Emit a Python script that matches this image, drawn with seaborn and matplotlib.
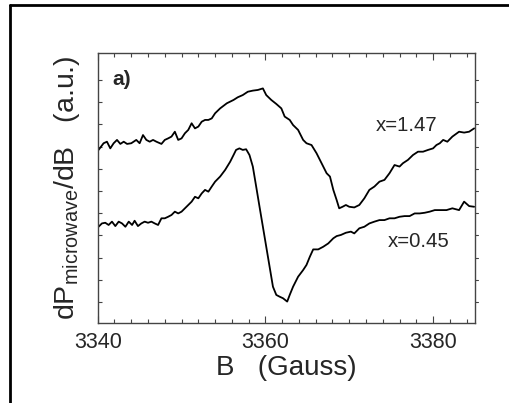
import numpy as np
import pandas as pd
import matplotlib
matplotlib.use("Agg")
import matplotlib.pyplot as plt
import seaborn as sns
from matplotlib.lines import Line2D
from matplotlib.ticker import MultipleLocator

# Upper trace, x = 1.47
b_147 = [3340.1, 3340.7, 3341.1, 3341.5, 3341.9, 3342.3, 3342.7, 3343.1, 3343.5, 3344.0,
         3344.6, 3345.0, 3345.4, 3345.8, 3346.2, 3346.6, 3347.0, 3347.6, 3348.0, 3348.4,
         3348.8, 3349.2, 3349.6, 3350.0, 3350.4, 3350.8, 3351.2, 3351.6, 3352.0, 3352.4,
         3352.8, 3353.2, 3353.6, 3354.0, 3354.6, 3355.4, 3356.2, 3356.7, 3357.3, 3357.9,
         3358.5, 3359.1, 3359.7, 3360.1, 3360.7, 3361.3, 3361.9, 3362.3, 3362.9, 3363.3,
         3363.9, 3364.5, 3364.9, 3365.5, 3366.1, 3366.7, 3367.3, 3367.7, 3368.1, 3368.5,
         3368.8, 3369.2, 3369.6, 3370.0, 3370.6, 3371.2, 3371.8, 3372.4, 3373.0, 3373.6,
         3374.2, 3374.8, 3375.4, 3376.0, 3376.4, 3377.0, 3377.6, 3378.2, 3378.8, 3379.4,
         3380.0, 3380.4, 3380.8, 3381.2, 3381.7, 3382.3, 3383.1, 3383.7, 3384.3, 3384.9]
s_147 = [6.85, 7.15, 7.22, 6.92, 7.15, 7.30, 7.12, 7.22, 7.12, 7.15,
         7.30, 7.15, 7.52, 7.30, 7.22, 7.30, 7.22, 7.12, 7.30, 7.37,
         7.45, 7.67, 7.30, 7.37, 7.60, 7.75, 8.05, 7.82, 7.90, 8.12,
         8.20, 8.20, 8.27, 8.50, 8.72, 8.95, 9.10, 9.22, 9.32, 9.47,
         9.52, 9.55, 9.62, 9.32, 9.10, 8.92, 8.72, 8.35, 8.20, 7.97,
         7.75, 7.30, 7.15, 7.07, 6.70, 6.25, 5.80, 5.65, 5.05, 4.59,
         4.22, 4.29, 4.37, 4.29, 4.26, 4.37, 4.67, 5.05, 5.20, 5.42,
         5.50, 5.80, 6.17, 6.10, 6.25, 6.40, 6.62, 6.77, 6.77, 6.85,
         6.92, 7.07, 7.15, 7.30, 7.22, 7.45, 7.67, 7.63, 7.67, 7.82]

# Lower trace, x = 0.45
b_045 = [3340.1, 3340.5, 3340.9, 3341.3, 3341.7, 3342.1, 3342.5, 3342.9, 3343.3, 3343.7,
         3344.1, 3344.4, 3344.8, 3345.2, 3345.6, 3346.0, 3346.4, 3346.8, 3347.2, 3347.6,
         3348.0, 3348.4, 3348.8, 3349.2, 3349.6, 3350.0, 3350.4, 3350.8, 3351.2, 3351.6,
         3352.0, 3352.4, 3352.8, 3353.2, 3353.6, 3354.0, 3354.6, 3355.2, 3355.8, 3356.2,
         3356.5, 3356.9, 3357.3, 3357.7, 3358.1, 3358.5, 3358.9, 3359.3, 3359.7, 3360.1,
         3360.5, 3360.9, 3361.3, 3361.7, 3362.1, 3362.6, 3362.9, 3363.3, 3363.9, 3364.5,
         3364.9, 3365.3, 3365.7, 3366.3, 3366.9, 3367.5, 3368.1, 3368.5, 3369.0, 3369.6,
         3370.2, 3370.6, 3371.2, 3371.8, 3372.4, 3373.0, 3373.6, 3374.2, 3374.8, 3375.4,
         3376.0, 3376.6, 3377.2, 3377.8, 3378.4, 3379.0, 3379.6, 3380.2, 3380.8, 3381.6,
         3382.3, 3383.1, 3383.7, 3384.3, 3384.9]
s_045 = [3.39, 3.54, 3.57, 3.47, 3.62, 3.42, 3.62, 3.54, 3.39, 3.62,
         3.47, 3.66, 3.42, 3.54, 3.62, 3.57, 3.62, 3.54, 3.47, 3.77,
         3.77, 3.84, 3.92, 4.07, 3.99, 4.07, 4.22, 4.37, 4.52, 4.74,
         4.67, 4.89, 5.05, 4.97, 5.20, 5.42, 5.65, 5.95, 6.32, 6.62,
         6.85, 6.92, 6.85, 6.88, 6.62, 6.10, 5.20, 4.29, 3.39, 2.49,
         1.59, 0.69, 0.32, 0.24, 0.17, 0.02, 0.32, 0.69, 1.14, 1.44,
         1.67, 2.04, 2.37, 2.37, 2.49, 2.64, 2.87, 2.97, 3.02, 3.12,
         3.17, 3.09, 3.32, 3.39, 3.54, 3.62, 3.69, 3.69, 3.77, 3.77,
         3.84, 3.87, 3.87, 3.99, 3.99, 4.02, 4.07, 4.14, 4.14, 4.14,
         4.22, 4.14, 4.52, 4.32, 4.29]

x_ticks = [3340, 3360, 3380]
series_labels = ["x=1.47", "x=0.45"]

sns.set_style("white")
plt.rcParams["font.family"] = ["Liberation Sans", "DejaVu Sans"]
plt.rcParams["mathtext.fontset"] = "custom"
plt.rcParams["mathtext.rm"] = "Liberation Sans"
plt.rcParams["mathtext.it"] = "Liberation Sans:italic"

fig = plt.figure(figsize=(5.10, 4.03), dpi=100)
ax = fig.add_axes([0.1916, 0.1993, 0.7398, 0.6684])

df1 = pd.DataFrame({"B": b_147, "S": s_147})
df2 = pd.DataFrame({"B": b_045, "S": s_045})
sns.lineplot(data=df1, x="B", y="S", ax=ax, color="black", lw=1.3,
             estimator=None, sort=False)
sns.lineplot(data=df2, x="B", y="S", ax=ax, color="black", lw=1.3,
             estimator=None, sort=False)

ax.set_xlim(3340, 3385)
ax.set_ylim(-0.93, 11.2)
ax.set_xticks(x_ticks)
ax.set_xticklabels([str(t) for t in x_ticks], fontsize=15.5)
ax.xaxis.set_minor_locator(MultipleLocator(2))
ax.set_yticks(range(0, 11))
ax.set_yticklabels([])

ax.tick_params(axis="x", which="major", direction="in", length=5, width=0.8,
               top=True, bottom=True, color="#444444", pad=7)
ax.tick_params(axis="x", which="minor", direction="in", length=3, width=0.8,
               top=True, bottom=True, color="#444444")
ax.tick_params(axis="y", which="major", direction="in", length=3, width=0.8,
               left=True, right=False, color="#444444")
# right-side ticks drawn outward as in the reference
for yt in range(0, 11):
    ax.plot([1.0, 1.008], [yt, yt], transform=ax.get_yaxis_transform(),
            color="#444444", lw=0.8, clip_on=False)

for sp in ax.spines.values():
    sp.set_color("#444444")
    sp.set_linewidth(1.0)

ax.set_xlabel("B   (Gauss)", fontsize=20, labelpad=1)
ax.set_ylabel(r"dP$_{\mathrm{microwave}}$/dB   (a.u.)", fontsize=20.5, labelpad=8)

ax.text(3341.8, 10.0, "a)", fontsize=15, fontweight="bold", va="center", ha="left")
ax.text(3373.2, 7.97, series_labels[0], fontsize=14.7, va="center", ha="left")
ax.text(3374.6, 2.72, series_labels[1], fontsize=14.7, va="center", ha="left")

# outer frame (top and left edges visible)
fig.add_artist(Line2D([10 / 510, 10 / 510], [0, 1 - 5 / 403], transform=fig.transFigure,
                      color="black", lw=2))
fig.add_artist(Line2D([10 / 510, 1], [1 - 5 / 403, 1 - 5 / 403], transform=fig.transFigure,
                      color="black", lw=2))

fig.savefig("out.png", dpi=100)
